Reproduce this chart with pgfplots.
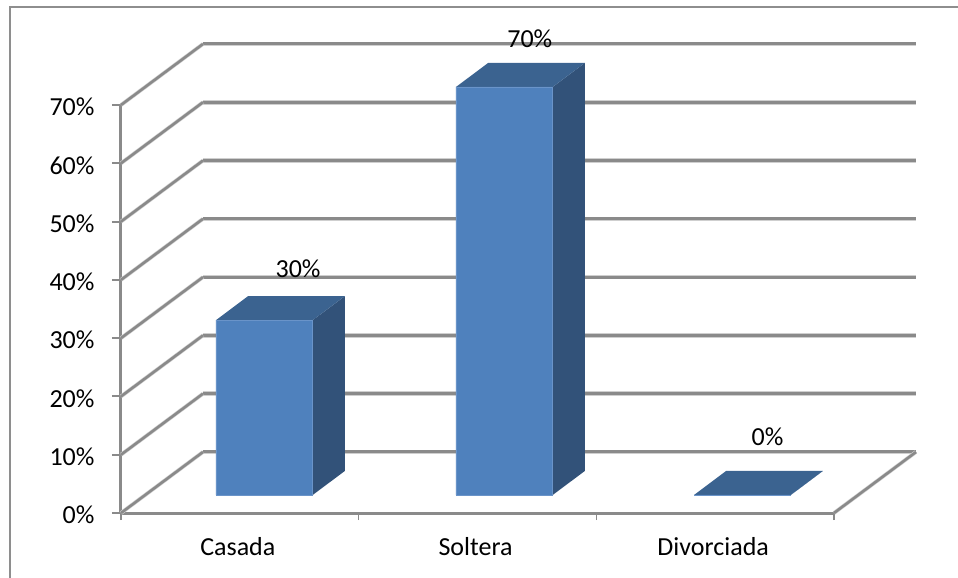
\documentclass[border=0pt]{standalone}
\usepackage{pgfplots}
\pgfplotsset{compat=1.18}
\usepackage{fontspec}
\setmainfont{Carlito}
\definecolor{gridgray}{HTML}{8A8A8A}
\definecolor{gridsoft}{HTML}{CFCFCF}
\definecolor{framegray}{HTML}{8E8E8E}
\definecolor{barfront}{HTML}{4F81BD}
\definecolor{bartop}{HTML}{3B6390}
\definecolor{barside}{HTML}{325279}
\definecolor{baredge}{HTML}{6A94C9}
\newcommand{\labelfont}{\fontsize{26}{30}\selectfont}

% Back wall and floor rules: depth is a shear of 0.345 categories and 10.47 points
\newcommand{\wallrule}[1]{%
  \addplot[gridsoft, line width=4.6pt] coordinates {(0.345,#1) (3.345,#1)};
  \addplot[gridgray, line width=3pt] coordinates {(0.345,#1) (3.345,#1)};
}
\newcommand{\siderule}[2]{%
  \addplot[gridsoft, line width=3.8pt] coordinates {(0,#1) (0.345,#2)};
  \addplot[gridgray, line width=2.6pt] coordinates {(0,#1) (0.345,#2)};
}
% A sheared column: #1 left edge, #2 value
\newcommand{\column}[2]{%
  \addplot[fill=barside, draw=none] table[row sep=\\,
    x expr={#1+\thisrow{f}*0.407+\thisrow{d}*0.135},
    y expr={3.09+\thisrow{h}*#2+\thisrow{d}*4.12}]
    {f h d\\ 1 0 0\\ 1 0 1\\ 1 1 1\\ 1 1 0\\ 1 0 0\\};
  \addplot[fill=bartop, draw=none] table[row sep=\\,
    x expr={#1+\thisrow{f}*0.407+\thisrow{d}*0.135},
    y expr={3.09+\thisrow{h}*#2+\thisrow{d}*4.12}]
    {f h d\\ 0 1 0\\ 1 1 0\\ 1 1 1\\ 0 1 1\\ 0 1 0\\};
  \addplot[fill=barfront, draw=baredge, line width=0.6pt] table[row sep=\\,
    x expr={#1+\thisrow{f}*0.407+\thisrow{d}*0.135},
    y expr={3.09+\thisrow{h}*#2+\thisrow{d}*4.12}]
    {f h d\\ 0 0 0\\ 1 0 0\\ 1 1 0\\ 0 1 0\\ 0 0 0\\};
}

\begin{document}
\begin{tikzpicture}
\path[use as bounding box] (-121pt,-65pt) rectangle (837pt,513pt);
\draw[framegray, line width=1.6pt] (-111pt,-65pt) -- (-111pt,506pt) -- (837pt,506pt);
\begin{axis}[
  at={(0pt,0pt)}, anchor=origin,
  scale only axis, width=713pt, height=408pt,
  xmin=0, xmax=3, ymin=0, ymax=70,
  clip=false,
  axis x line=bottom, axis y line=left,
  axis line style={gridgray, line width=3pt, -},
  xtick={0.5,1.5,2.5},
  xticklabels={Casada,Soltera,Divorciada},
  minor xtick={0,1,2,3},
  ytick={0,10,20,30,40,50,60,70},
  yticklabels={0\%,10\%,20\%,30\%,40\%,50\%,60\%,70\%},
  tick align=outside,
  major x tick style={draw=none},
  minor x tick style={gridgray, line width=1.5pt},
  minor tick length=7pt,
  major y tick style={gridgray, line width=2pt},
  major tick length=9pt,
  tick label style={font=\labelfont, text=black},
  x tick label style={yshift=-12pt, xshift=-2pt},
  y tick label style={xshift=-14pt, yshift=-2pt},
]
\wallrule{10.47}\wallrule{20.47}\wallrule{30.47}\wallrule{40.47}
\wallrule{50.47}\wallrule{60.47}\wallrule{70.47}\wallrule{80.47}
\siderule{0}{10.47}\siderule{10}{20.47}\siderule{20}{30.47}\siderule{30}{40.47}
\siderule{40}{50.47}\siderule{50}{60.47}\siderule{60}{70.47}\siderule{70}{80.47}
\addplot[gridsoft, line width=3.8pt] coordinates {(3,0) (3.345,10.47)};
\addplot[gridgray, line width=2.6pt] coordinates {(3,0) (3.345,10.47)};
\column{0.3997}{30}
\column{1.4095}{70}
\column{2.411}{0}
\node[font=\labelfont, text=black] at (axis cs:0.745,41.9) {30\%};
\node[font=\labelfont, text=black] at (axis cs:1.72,81.4) {70\%};
\node[font=\labelfont, text=black] at (axis cs:2.72,13) {0\%};
\end{axis}
\end{tikzpicture}
\end{document}
